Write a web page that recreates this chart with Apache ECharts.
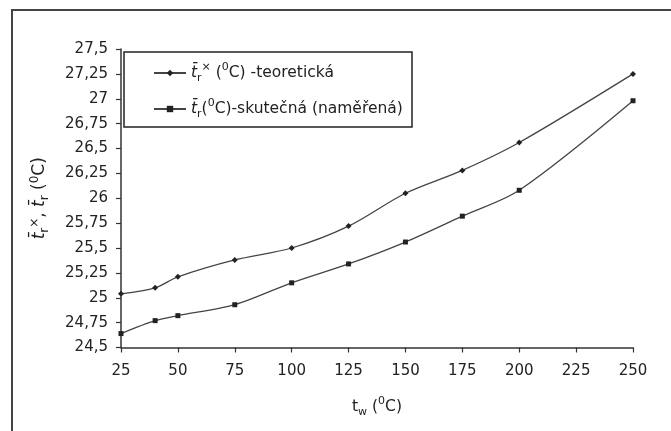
<!DOCTYPE html>
<html>
<head>
<meta charset="utf-8">
<script src="https://cdn.jsdelivr.net/npm/echarts@6/dist/echarts.min.js"></script>
<style>
html,body{margin:0;padding:0;background:#fff;}
#chart{width:671px;height:431px;}
</style>
</head>
<body>
<div id="chart"></div>
<script>
// Data
const tw = [25, 40, 50, 75, 100, 125, 150, 175, 200, 250];
const teoreticka = [25.04, 25.10, 25.21, 25.38, 25.50, 25.72, 26.05, 26.28, 26.56, 27.25];
const skutecna = [24.64, 24.77, 24.82, 24.93, 25.15, 25.34, 25.56, 25.82, 26.08, 26.98];
const seriesNames = ['teoreticka', 'skutecna'];
const legendTexts = {
  teoreticka: '{it|t\u0304}{sub|r}{sup|\u00d7} ({sup|0}C) -teoretická',
  skutecna: '{it|t\u0304}{sub|r}({sup|0}C)-skutečná (naměřená)'
};
const xTitle = '{n|t}{sub|w} ({sup|0}C)';
const yTitle = '{it|t\u0304}{sub|r}{sup|\u00d7}{n|, }{it|t\u0304}{sub|r}{n| (}{sup|0}{n|C)}';

const FONT = "'DejaVu Sans', 'Liberation Sans', Arial, sans-serif";
function makeRich(size, small) {
  return {
    n: {fontFamily: FONT, fontSize: size, color: '#222', lineHeight: 22},
    it: {fontFamily: FONT, fontSize: size, fontStyle: 'italic', color: '#222', lineHeight: 22},
    sub: {fontFamily: FONT, fontSize: small, color: '#222', lineHeight: 12, verticalAlign: 'bottom'},
    sup: {fontFamily: FONT, fontSize: small, color: '#222', lineHeight: 12, verticalAlign: 'top'}
  };
}

const chart = echarts.init(document.getElementById('chart'), null, {renderer: 'canvas'});
const axisColor = '#333';
chart.setOption({
  animation: false,
  backgroundColor: '#fff',
  textStyle: {fontFamily: FONT},
  grid: {left: 121, right: 38, top: 49, bottom: 83.5, containLabel: false},
  graphic: [
    {type: 'rect', shape: {x: 12, y: 10, width: 720, height: 470}, style: {fill: null, stroke: '#444', lineWidth: 2}, silent: true},
    {type: 'rect', shape: {x: 124, y: 52, width: 288, height: 75}, style: {fill: '#fff', stroke: '#222', lineWidth: 1.5}, z: 5, silent: true}
  ],
  legend: {
    z: 10,
    orient: 'vertical',
    left: 153, top: 62,
    padding: 0,
    itemWidth: 32, itemHeight: 8,
    itemGap: 14,
    data: seriesNames,
    formatter: function (name) { return legendTexts[name]; },
    textStyle: {fontFamily: FONT, fontSize: 15.5, color: '#222', lineHeight: 22, rich: makeRich(15.5, 11)}
  },
  xAxis: {
    type: 'value', min: 25, max: 250, interval: 25,
    name: xTitle, nameLocation: 'middle', nameGap: 48,
    nameTextStyle: {fontFamily: FONT, fontSize: 15.5, color: '#222', lineHeight: 22, rich: makeRich(15.5, 11)},
    axisLine: {onZero: false, lineStyle: {color: axisColor, width: 1.5}},
    axisTick: {show: true, inside: false, length: 5, lineStyle: {color: axisColor, width: 1.2}},
    axisLabel: {fontFamily: FONT, fontSize: 15, color: '#222', margin: 16},
    splitLine: {show: false}
  },
  yAxis: {
    type: 'value', min: 24.5, max: 27.5, interval: 0.25,
    name: yTitle, nameLocation: 'middle', nameGap: 70, nameRotate: 90,
    nameTextStyle: {fontFamily: FONT, fontSize: 17, color: '#222', lineHeight: 22, rich: makeRich(17, 12)},
    axisLine: {show: true, onZero: false, lineStyle: {color: axisColor, width: 1.5}},
    axisTick: {show: true, inside: false, length: 5, lineStyle: {color: axisColor, width: 1.2}},
    axisLabel: {fontFamily: FONT, fontSize: 15, color: '#222', margin: 13,
      formatter: function (v) { return String(+v.toFixed(2)).replace('.', ','); }},
    splitLine: {show: false}
  },
  series: [
    {
      name: seriesNames[0], type: 'line', smooth: 0.3,
      data: tw.map((x, i) => [x, teoreticka[i]]),
      symbol: 'diamond', symbolSize: 6,
      itemStyle: {color: '#222'},
      lineStyle: {color: '#444', width: 1.3}
    },
    {
      name: seriesNames[1], type: 'line', smooth: 0.3,
      data: tw.map((x, i) => [x, skutecna[i]]),
      symbol: 'rect', symbolSize: 5,
      itemStyle: {color: '#222'},
      lineStyle: {color: '#444', width: 1.3}
    }
  ]
});
</script>
</body>
</html>
